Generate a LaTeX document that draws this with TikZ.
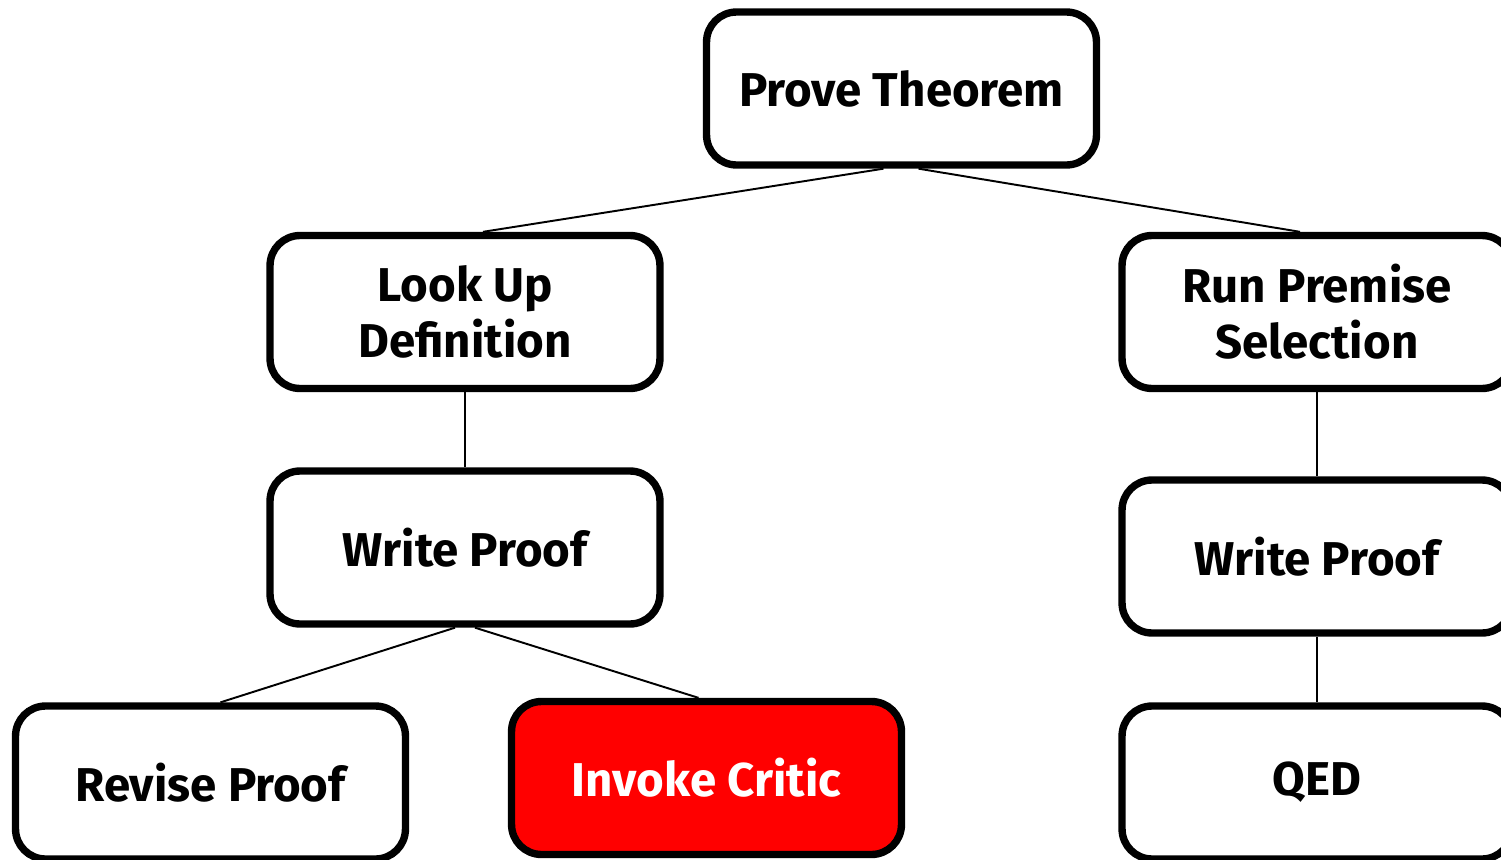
\documentclass[tikz,border=0pt]{standalone}
\usepackage{fontspec}
\setmainfont{Fira Sans}
\definecolor{critred}{RGB}{255,0,0}
\usetikzlibrary{positioning}

\begin{document}
\begin{tikzpicture}[x=0.02cm, y=-0.02cm,
  taskbox/.style={draw=black, line width=4.2pt, fill=white, rounded corners=0.6cm,
    minimum width=7.8cm, minimum height=3.06cm, align=center,
    font=\fontsize{27}{32}\selectfont\bfseries, inner sep=0pt},
  critbox/.style={taskbox, fill=critred, text=white},
  link/.style={draw=black, line width=1.1pt}]

\useasboundingbox (0,0) rectangle (1501,859);
\clip (0,0) rectangle (1501,859);

% --- top goal ---
\node[taskbox] (prove) at (901.5,88.5) {Prove Theorem};

% --- left branch ---
\node[taskbox] (lookup) at (465,312) {Look Up\\Definition};
\node[taskbox] (writeL) at (465,547.5) {Write Proof};
\node[taskbox] (revise) at (210.5,782.5) {Revise Proof};
\node[critbox] (critic) at (706.5,778) {Invoke Critic};

% --- right branch ---
\node[taskbox] (premise) at (1317,312) {Run Premise\\Selection};
\node[taskbox] (writeR) at (1317,556.5) {Write Proof};
\node[taskbox] (qed) at (1317,782.5) {QED};

% Edges
\draw[link] ([xshift=-0.36cm]prove.south) -- ([xshift=0.36cm]lookup.north);
\draw[link] ([xshift=0.34cm]prove.south) -- ([xshift=-0.34cm]premise.north);
\draw[link] (lookup) -- (writeL);
\draw[link] ([xshift=-0.2cm]writeL.south) -- ([xshift=0.2cm]revise.north);
\draw[link] ([xshift=0.2cm]writeL.south) -- ([xshift=-0.16cm]critic.north);
\draw[link] (premise) -- (writeR);
\draw[link] (writeR) -- (qed);

\end{tikzpicture}
\end{document}
